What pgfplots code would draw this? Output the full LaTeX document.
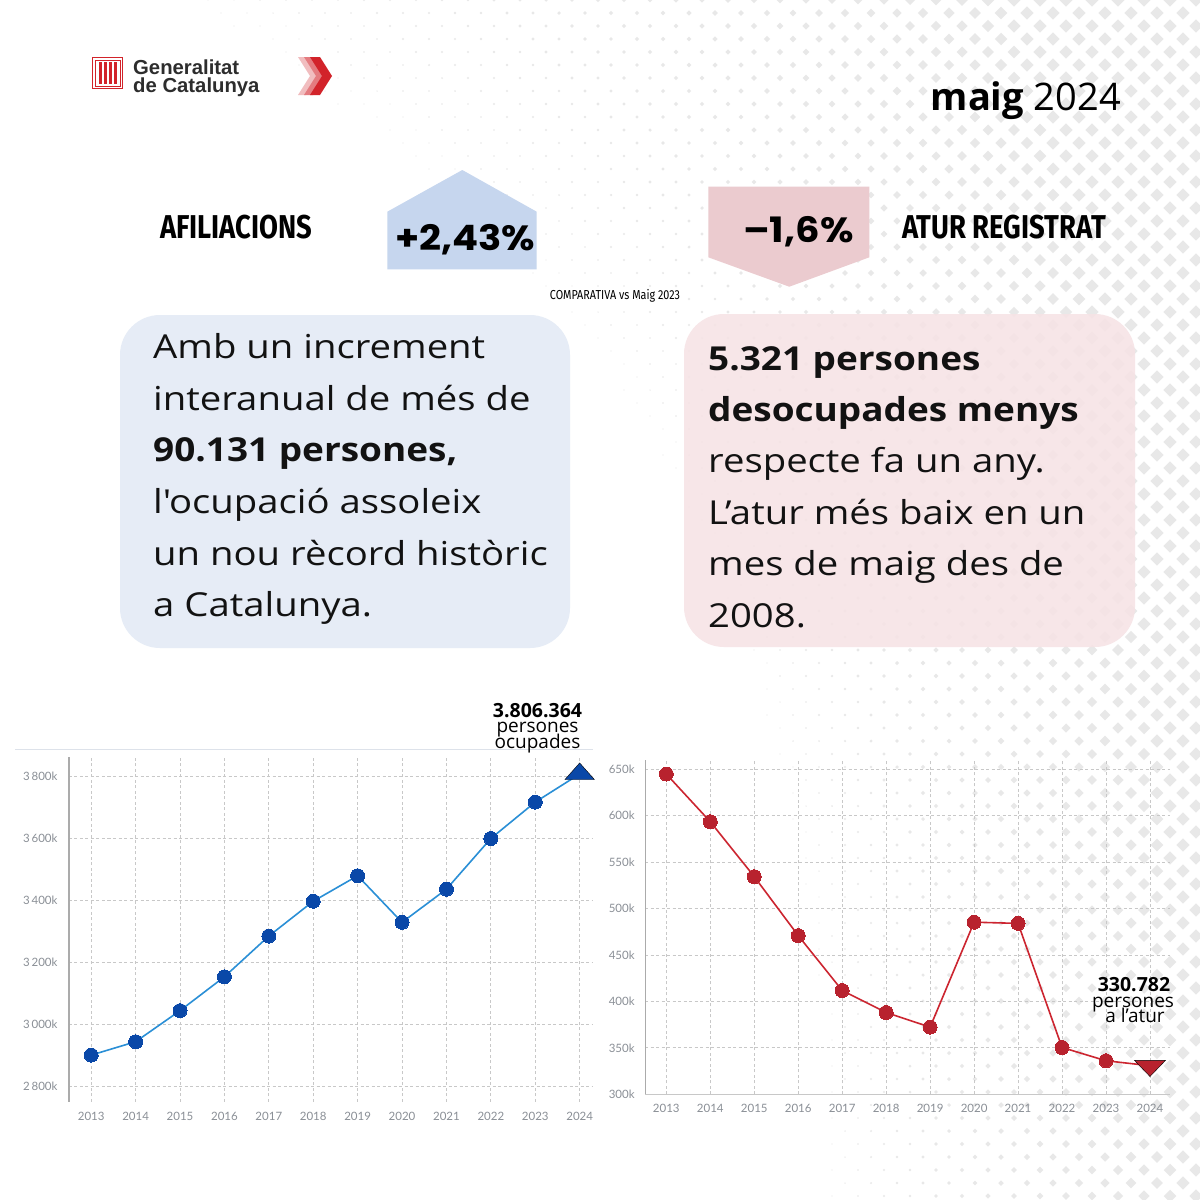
\documentclass[border=0pt]{standalone}
\usepackage{fontspec}
\usepackage{pgfplots}
\pgfplotsset{compat=1.18}
\setmainfont{Open Sans}
\newfontfamily\bodyfont[FakeStretch=1.16]{Open Sans}
\newfontfamily\bodybold[FakeStretch=1.12]{Open Sans Bold}
\newfontfamily\latofont{Lato}
\newfontfamily\opensans{Open Sans}
\newfontfamily\condfont[FakeStretch=0.83]{Fira Sans}
\newfontfamily\popfont[FakeStretch=1.1]{Poppins}
\newfontfamily\helv{Liberation Sans}

\definecolor{bluebox}{HTML}{E3EAF5}
\definecolor{pinkbox}{HTML}{F6E3E5}
\definecolor{houseblue}{HTML}{C6D6EE}
\definecolor{arrowpink}{HTML}{EBCBCF}
\definecolor{lineblue}{HTML}{2A8FD6}
\definecolor{markblue}{HTML}{0A48A8}
\definecolor{linered}{HTML}{CC2530}
\definecolor{markred}{HTML}{B8222E}
\definecolor{gridgray}{HTML}{C8C8C8}
\definecolor{tickgray}{HTML}{8A8F96}
\definecolor{axisgray}{HTML}{ABABAB}
\definecolor{catred}{HTML}{D2232A}
\definecolor{patgray}{HTML}{E8E8E8}
\definecolor{sepline}{HTML}{DDE2EA}
\definecolor{logotext}{HTML}{2D2D2D}

\pgfplotsset{
  mychart/.style={
    scale only axis, anchor=south west, clip=false,
    axis line style={draw=none}, major tick length=0pt,
    grid=major,
    major grid style={draw=gridgray, dash pattern=on 3pt off 2.5pt, line width=0.8pt},
    tick label style={font=\latofont\fontsize{11.5}{12}\selectfont, text=tickgray},
    /pgf/number format/assume math mode=true,
    xtick={2013,2014,2015,2016,2017,2018,2019,2020,2021,2022,2023,2024},
    xticklabels={2013,2014,2015,2016,2017,2018,2019,2020,2021,2022,2023,2024},
  }
}

\begin{document}
\begin{tikzpicture}
\path[use as bounding box] (0pt,0pt) rectangle (1200pt,-1200pt);
\fill[white] (0pt,0pt) rectangle (1200pt,-1200pt);

\begin{scope}[x=1pt,y=-1pt]
% background dot pattern
\foreach \j in {0,...,92}{
  \foreach \i in {0,...,46}{
    \pgfmathsetmacro\px{\i*26+mod(\j,2)*13}
    \pgfmathsetmacro\py{\j*13}
    \pgfmathsetmacro\s{min(11,14*(\px/1200)^4+7*(1-\py/1200)^2*(0.35+0.65*\px/1200)-2.2)}
    \ifdim\s pt>1pt
      \pgfmathsetmacro\h{0.6*\s}
      \fill[patgray] (\px,\py-\h) -- (\px+\h,\py) -- (\px,\py+\h) -- (\px-\h,\py) -- cycle;
    \fi
  }
}

% logo
\draw[catred, line width=1pt] (92.5,57.5) rectangle (122.5,88.5);
\draw[catred, line width=0.6pt] (95,60) rectangle (120,86);
\foreach \xx in {98.5,103.8,109.1,114.4}{
  \fill[catred] (\xx,62) rectangle (\xx+3,84);
}
\node[anchor=base west, inner sep=0, text=logotext] at (133,74.3) {\helv\bfseries\fontsize{20.3}{20}\selectfont Generalitat};
\node[anchor=base west, inner sep=0, text=logotext] at (133,92.7) {\helv\bfseries\fontsize{20.3}{20}\selectfont de Catalunya};
\fill[catred!30] (298,57) -- (306,57) -- (318,76) -- (306,95) -- (298,95) -- (310,76) -- cycle;
\fill[catred!60] (304,57) -- (313,57) -- (325,76) -- (313,95) -- (304,95) -- (316,76) -- cycle;
\fill[catred] (310,57) -- (320,57) -- (332,76) -- (320,95) -- (310,95) -- (322,76) -- cycle;

% date
\node[anchor=base east, inner sep=0] at (1121,110.7) {\opensans\fontsize{38}{38}\selectfont\textbf{maig} 2024};

% indicator shapes
\fill[houseblue] (387.3,269.3) -- (387.3,211.7) -- (462.3,170) -- (536.7,211.7) -- (536.7,269.3) -- cycle;
\fill[arrowpink] (708.3,186.7) -- (869.3,186.7) -- (869.3,257.3) -- (789.3,286.7) -- (708.3,257.3) -- cycle;
\node[anchor=base west, inner sep=0] at (160,238.3) {\condfont\bfseries\fontsize{33}{33}\selectfont AFILIACIONS};
\node[anchor=base west, inner sep=0] at (902,238.3) {\condfont\bfseries\fontsize{33}{33}\selectfont ATUR REGISTRAT};
\node[anchor=base west, inner sep=0] at (395,250) {\popfont\bfseries\fontsize{35}{35}\selectfont +2,43\%};
\node[anchor=base west, inner sep=0] at (743,242) {\popfont\bfseries\fontsize{35}{35}\selectfont –1,6\%};
\node[anchor=base, inner sep=0] at (615,299) {\condfont\fontsize{13}{13}\selectfont COMPARATIVA vs Maig 2023};

% text boxes
\fill[bluebox, fill opacity=0.88, rounded corners=40pt] (120,315) rectangle (570,648);
\fill[pinkbox, fill opacity=0.88, rounded corners=40pt] (684,314) rectangle (1135,647);

\foreach \t [count=\k from 0] in {Amb un increment,interanual de més de,{\bodybold 90.131 persones,},l'ocupació assoleix,un nou rècord històric,a Catalunya.}{
  \node[anchor=base west, inner sep=0, text=black!93] at (153,358.3+51.7*\k) {\bodyfont\fontsize{33}{33}\selectfont \t};
}
\foreach \t [count=\k from 0] in {\bodybold 5.321 persones,\bodybold desocupades menys,respecte fa un any.,L’atur més baix en un,mes de maig des de,2008.}{
  \node[anchor=base west, inner sep=0, text=black!93] at (708,370+51.4*\k) {\bodyfont\fontsize{33}{33}\selectfont \t};
}

% separator above left chart
\draw[sepline, line width=1.5pt] (15,749.3) -- (593,749.3);
\end{scope}

% ---------- left chart: afiliacions ----------
\begin{axis}[mychart,
  at={(69pt,-1101.7pt)}, width=524pt, height=345pt,
  xmin=2012.5, xmax=2024.3, ymin=2752, ymax=3862,
  ytick={2800,3000,3200,3400,3600,3800},
  yticklabels={2\,800k,3\,000k,3\,200k,3\,400k,3\,600k,3\,800k},
  yticklabel style={xshift=-8pt},
  xticklabel style={yshift=-6.5pt},
]
\draw[axisgray, line width=1.3pt] (rel axis cs:0,0) -- (rel axis cs:0,1);
\addplot[lineblue, line width=1.6pt, mark=*, mark size=7pt,
  mark options={fill=markblue, draw=markblue, line width=0pt},
  mark indices={1,2,3,4,5,6,7,8,9,10,11}] coordinates {
  (2013,2902) (2014,2945) (2015,3045) (2016,3154) (2017,3285) (2018,3397)
  (2019,3479) (2020,3329) (2021,3436) (2022,3599) (2023,3716) (2024,3806.364)
};
\addplot[only marks, mark=triangle*, mark size=17pt,
  mark options={fill=markblue, draw=none, yscale=0.65}] coordinates {(2024,3806.364)};
\end{axis}

% ---------- right chart: atur registrat ----------
\begin{axis}[mychart,
  at={(645.2pt,-1094.3pt)}, width=525pt, height=334.3pt,
  xmin=2012.52, xmax=2024.46, ymin=300, ymax=659.7,
  ytick={300,350,400,450,500,550,600,650},
  yticklabels={300k,350k,400k,450k,500k,550k,600k,650k},
  yticklabel style={xshift=-7pt},
  xticklabel style={yshift=-6pt},
]
\draw[axisgray, line width=1.3pt] (rel axis cs:0,0) -- (rel axis cs:0,1);
\draw[gridgray, line width=1pt] (rel axis cs:0,0) -- (rel axis cs:1,0);
\addplot[linered, line width=1.6pt, mark=*, mark size=7pt,
  mark options={fill=markred, draw=markred, line width=0pt},
  mark indices={1,2,3,4,5,6,7,8,9,10,11}] coordinates {
  (2013,644.6) (2014,593.3) (2015,534.2) (2016,470.8) (2017,411.7) (2018,388.0)
  (2019,372.3) (2020,485.2) (2021,483.9) (2022,350.4) (2023,336.1) (2024,330.782)
};
\addplot[only marks, mark=triangle*, mark size=18pt,
  mark options={fill=markred, draw=none, yscale=-0.6}] coordinates {(2024,330.782)};
\end{axis}

\begin{scope}[x=1pt,y=-1pt]
\node[anchor=base, inner sep=0] at (537.5,717.3) {\opensans\bfseries\fontsize{19.5}{20}\selectfont 3.806.364};
\node[anchor=base, inner sep=0] at (537.5,732) {\opensans\fontsize{19}{20}\selectfont persones};
\node[anchor=base, inner sep=0] at (537.5,748) {\opensans\fontsize{19}{20}\selectfont ocupades};
\node[anchor=base, inner sep=0] at (1134,991.7) {\opensans\bfseries\fontsize{19.5}{20}\selectfont 330.782};
\node[anchor=base, inner sep=0] at (1133,1007) {\opensans\fontsize{19}{20}\selectfont persones};
\node[anchor=base, inner sep=0] at (1135,1022) {\opensans\fontsize{19}{20}\selectfont a l’atur};
\end{scope}
\end{tikzpicture}
\end{document}
